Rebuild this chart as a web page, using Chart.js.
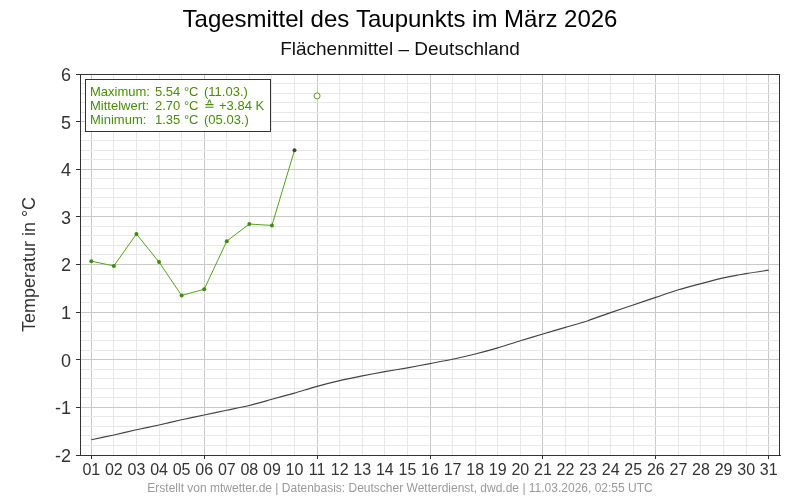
<!DOCTYPE html>
<html>
<head>
<meta charset="utf-8">
<script src="https://cdn.jsdelivr.net/npm/chart.js@4"></script>
<style>
  html, body { margin: 0; padding: 0; background: #fff; }
  #wrap { width: 800px; height: 500px; }
</style>
</head>
<body>
<div id="wrap"><canvas id="myChart" width="800" height="500"></canvas></div>
<script>
// Tage im März
const days = ['01','02','03','04','05','06','07','08','09','10','11','12','13','14','15','16',
  '17','18','19','20','21','22','23','24','25','26','27','28','29','30','31'];
// Tagesmittel Taupunkt (gemessen, 01.-10.)
const taupunkt = [2.07, 1.97, 2.64, 2.05, 1.35, 1.48, 2.49, 2.85, 2.82, 4.40];
// aktueller Tag (11.03.), noch unvollständig
const aktuellTag = '11';
const aktuellWert = 5.54;
// klimatologisches Mittel
const klima = [-1.68, -1.58, -1.47, -1.37, -1.26, -1.16, -1.06, -0.96, -0.83, -0.70, -0.56,
  -0.44, -0.34, -0.25, -0.17, -0.08, 0.01, 0.12, 0.25, 0.40, 0.54, 0.68, 0.82, 0.99, 1.15,
  1.31, 1.47, 1.60, 1.72, 1.81, 1.88];
const yTicks = [-2, -1, 0, 1, 2, 3, 4, 5, 6];
// Infobox: [Text, x]
const infoLines = [
  [['Maximum:', 90], ['5.54 °C', 155], ['(11.03.)', 204]],
  [['Mittelwert:', 90], ['2.70 °C', 155], ['\u2259', 204], ['+3.84 K', 219]],
  [['Minimum:', 90], ['1.35 °C', 155], ['(05.03.)', 204]]
];

const FONT = '"Liberation Sans", Arial, sans-serif';
const green = '#58a01c';
const textGreen = '#4b8b0b';

const texte = {
  id: 'texte',
  afterDraw(chart) {
    const c = chart.ctx, a = chart.chartArea;
    c.save();
    // Rahmen
    c.strokeStyle = '#333';
    c.lineWidth = 1;
    c.strokeRect(a.left + 0.5, a.top + 0.5, a.right - a.left - 1, a.bottom - a.top);
    // Titel
    c.fillStyle = '#000';
    c.textAlign = 'center';
    c.textBaseline = 'middle';
    c.font = '24px ' + FONT;
    c.fillText('Tagesmittel des Taupunkts im März 2026', 400, 20);
    c.font = '19px ' + FONT;
    c.fillStyle = '#111';
    c.fillText('Flächenmittel – Deutschland', 400, 50);
    c.font = '12px ' + FONT;
    c.fillStyle = '#999';
    c.fillText('Erstellt von mtwetter.de | Datenbasis: Deutscher Wetterdienst, dwd.de | 11.03.2026, 02:55 UTC', 400, 489);
    // Infobox
    c.fillStyle = '#fff';
    c.fillRect(85.5, 79.5, 185, 52);
    c.strokeStyle = '#333';
    c.strokeRect(85.5, 79.5, 185, 52);
    c.font = '13px ' + FONT;
    c.fillStyle = textGreen;
    c.textAlign = 'left';
    infoLines.forEach((line, i) => {
      line.forEach(p => c.fillText(p[0], p[1], 92 + i * 14));
    });
    c.restore();
  }
};

const isMajor = v => Math.abs(v - Math.round(v)) < 1e-6;

const ctx = document.getElementById('myChart');
new Chart(ctx, {
  type: 'line',
  data: {
    labels: days,
    datasets: [
      {
        label: 'Klima',
        data: klima,
        borderColor: '#444',
        borderWidth: 1.2,
        pointRadius: 0,
        tension: 0.2,
        order: 3
      },
      {
        label: 'Taupunkt',
        data: taupunkt,
        borderColor: green,
        borderWidth: 1,
        pointRadius: 2,
        pointBorderWidth: 0,
        pointBackgroundColor: taupunkt.map((v, i) => i === taupunkt.length - 1 ? '#3d4a30' : '#3f8a10'),
        order: 2
      },
      {
        label: 'aktuell',
        data: days.map(d => d === aktuellTag ? aktuellWert : null),
        showLine: false,
        pointRadius: 3,
        pointBorderWidth: 1,
        pointBorderColor: green,
        pointBackgroundColor: '#fff',
        order: 1
      }
    ]
  },
  options: {
    responsive: false,
    animation: false,
    events: [],
    layout: { padding: { top: 74, right: 20, bottom: 0, left: 0 } },
    plugins: { legend: { display: false }, tooltip: { enabled: false } },
    scales: {
      x: {
        offset: true,
        afterFit: s => { s.height = 45; },
        border: { color: '#333' },
        grid: {
          offset: false,
          color: c => (c.index % 5 === 0 ? '#c8c8c8' : '#e8e8e8'),
          tickColor: c => (c.index % 5 === 0 ? '#333' : 'rgba(0,0,0,0)'),
          tickLength: 4
        },
        ticks: {
          autoSkip: false,
          maxRotation: 0,
          color: '#333',
          padding: 2,
          font: { family: FONT, size: 16 }
        }
      },
      y: {
        min: -2,
        max: 6,
        afterFit: s => { s.width = 80; },
        border: { color: '#333' },
        grid: {
          color: c => (isMajor(c.tick.value) ? '#c8c8c8' : '#e8e8e8'),
          tickColor: c => (isMajor(c.tick.value) ? '#333' : 'rgba(0,0,0,0)'),
          tickLength: 4
        },
        ticks: {
          autoSkip: false,
          stepSize: 0.2,
          color: '#333',
          padding: 5,
          labelOffset: 2,
          font: { family: FONT, size: 18 },
          callback: v => (isMajor(v) && yTicks.includes(Math.round(v))) ? String(Math.round(v)) : ''
        },
        title: {
          display: true,
          text: 'Temperatur in °C',
          color: '#333',
          font: { family: FONT, size: 18 },
          padding: { top: 19, bottom: 0 }
        }
      }
    }
  },
  plugins: [texte]
});
</script>
</body>
</html>
